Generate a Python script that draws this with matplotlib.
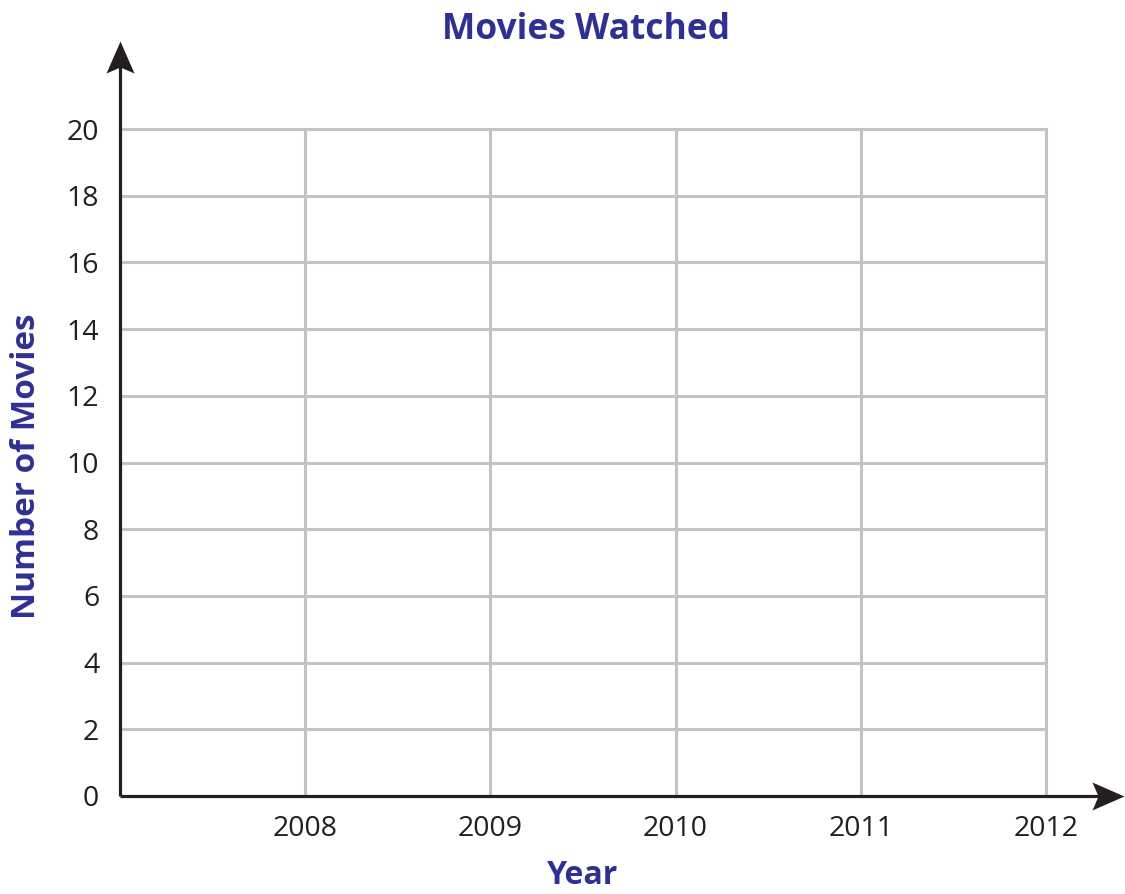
import numpy as np
import matplotlib.pyplot as plt
from matplotlib.path import Path

plt.rcParams['font.family'] = ['Open Sans', 'DejaVu Sans']

years = [2008, 2009, 2010, 2011, 2012]
year_labels = ['2008', '2009', '2010', '2011', '2012']
movie_ticks = list(range(0, 21, 2))

title_color = '#2e3192'
grid_color = '#c3c3c7'
axis_color = '#231f20'

fig = plt.figure(figsize=(11.25, 8.94), dpi=100)
ax = fig.add_axes([120 / 1125, 98 / 894, 926 / 1125, 667 / 894])

ax.set_xlim(2007, 2012)
ax.set_ylim(0, 20)
ax.set_xticks(years)
ax.set_xticklabels(year_labels)
ax.set_yticks(movie_ticks)
ax.tick_params(length=0, labelsize=20.5, colors=axis_color)
ax.tick_params(axis='x', pad=14)
ax.tick_params(axis='y', pad=15)

for v in years:
    ax.axvline(v, color=grid_color, lw=2.2, zorder=1, clip_on=False)
for v in movie_ticks[1:]:
    ax.axhline(v, color=grid_color, lw=2.2, zorder=1, clip_on=False)

for s in ax.spines.values():
    s.set_visible(False)

# axis lines
ax.plot([2007, 2012.3], [0, 0], color=axis_color, lw=2.3, clip_on=False,
        zorder=5, solid_capstyle='butt')
ax.plot([2007, 2007], [0, 22.2], color=axis_color, lw=2.3, clip_on=False,
        zorder=5, solid_capstyle='butt')

# arrowheads with a slight notch at the back
up_head = Path([(0, 16), (14, -16), (0, -10), (-14, -16), (0, 16)],
               [Path.MOVETO, Path.LINETO, Path.LINETO, Path.LINETO, Path.CLOSEPOLY])
right_head = Path([(16, 0), (-16, 14), (-10, 0), (-16, -14), (16, 0)],
                  [Path.MOVETO, Path.LINETO, Path.LINETO, Path.LINETO, Path.CLOSEPOLY])
ax.plot([2007], [22.16], marker=up_head, markersize=23, color=axis_color,
        markeredgewidth=0, clip_on=False, zorder=6)
ax.plot([2012.335], [0], marker=right_head, markersize=23, color=axis_color,
        markeredgewidth=0, clip_on=False, zorder=6)

fig.text(586 / 1125, 1 - 30 / 894, 'Movies Watched', ha='center', va='center',
         fontsize=25.5, fontweight='bold', color=title_color)
fig.text(27 / 1125, 1 - 466 / 894, 'Number of Movies', ha='center', va='center',
         rotation=90, fontsize=24, fontweight='bold', color=title_color)
fig.text(583 / 1125, 1 - 876 / 894, 'Year', ha='center', va='center',
         fontsize=23, fontweight='bold', color=title_color)

plt.savefig('out.png', dpi=100)
plt.close()
